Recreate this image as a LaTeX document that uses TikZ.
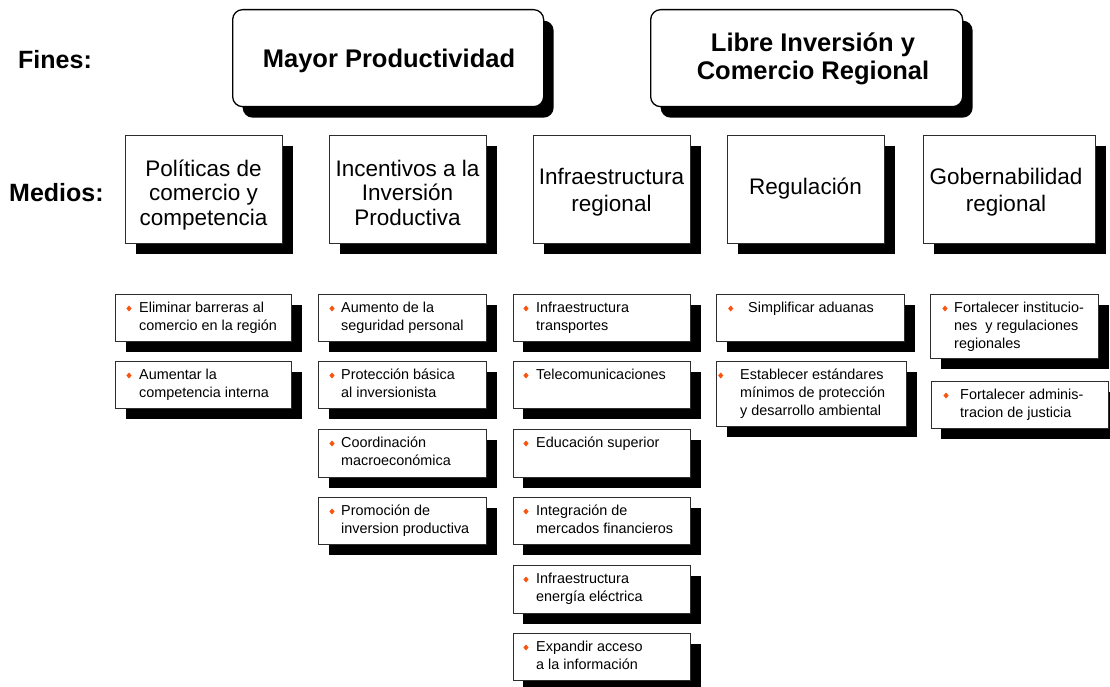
\documentclass[tikz,border=0pt]{standalone}
\usepackage{fontspec}
\setmainfont{Liberation Sans}
\usetikzlibrary{shadows}

\definecolor{bulletorange}{RGB}{250,85,15}
\definecolor{edgegray}{RGB}{45,45,45}

% multi-line cells whose baseline is the first line
\newcommand{\clines}[1]{\begin{tabular}[t]{@{}c@{}}#1\end{tabular}}
\newcommand{\llines}[1]{\begin{tabular}[t]{@{}l@{}}#1\end{tabular}}

\tikzset{
  endbox/.style={draw=black, line width=1.3pt, fill=white, rounded corners=10pt,
    inner sep=0pt, anchor=north west,
    drop shadow={shadow xshift=10pt, shadow yshift=-11pt, fill=black, opacity=1}},
  meanbox/.style={draw=edgegray, line width=1.2pt, fill=white, inner sep=0pt,
    anchor=north west, minimum width=157pt, minimum height=108pt,
    drop shadow={shadow xshift=10pt, shadow yshift=-10pt, fill=black, opacity=1}},
  itembox/.style={draw=edgegray, line width=1.2pt, fill=white, inner sep=0pt,
    anchor=north west,
    drop shadow={shadow xshift=10pt, shadow yshift=-10pt, fill=black, opacity=1}},
  rowlabel/.style={font=\fontsize{25}{28}\selectfont\bfseries, inner sep=0pt, anchor=base west},
  endtext/.style={font=\fontsize{25.5}{28}\selectfont\bfseries, inner sep=0pt, anchor=base},
  meantext/.style={font=\fontsize{22.5}{24}\selectfont, inner sep=0pt, anchor=base},
  meantextwide/.style={font=\fontsize{22.5}{26.7}\selectfont, inner sep=0pt, anchor=base},
  itemtext/.style={font=\fontsize{14.4}{17.8}\selectfont, inner sep=0pt, anchor=base west},
}

% #1 name, #2 left, #3 top, #4 width, #5 height, #6 bullet offset, #7 text offset, #8 text
\newcommand{\meansitem}[8]{%
  \node[itembox, minimum width=#4pt, minimum height=#5pt] (#1) at (#2,#3) {};
  \fill[bulletorange] (#2+#6,#3+14.5) +(-2.6,0) -- +(0,3) -- +(2.6,0) -- +(0,-3) -- cycle;
  \node[itemtext] (#1-text) at (#2+#7,#3+18.5) {\llines{#8}};
}

\begin{document}
\begin{tikzpicture}[x=1pt, y=-1pt]
  \useasboundingbox (0,0) rectangle (1110,687);

  % ends
  \node[rowlabel] (fines) at (18,69) {Fines:};
  \node[endbox, minimum width=311pt, minimum height=97pt] (mayor) at (232,9) {};
  \node[endtext] (mayor-text) at (389,68) {Mayor Productividad};
  \node[endbox, minimum width=312pt, minimum height=97pt] (libre) at (650,9) {};
  \node[endtext] (libre-text) at (813,52) {\clines{Libre Inversión y\\Comercio Regional}};

  % means
  \node[rowlabel] (medios) at (9,201) {Medios:};
  \node[meanbox] (politicas) at (125,135) {};
  \node[meantext] (politicas-text) at (203.5,177) {\clines{Políticas de\\comercio y\\competencia}};
  \node[meanbox] (incentivos) at (329,135) {};
  \node[meantext] (incentivos-text) at (407.5,177) {\clines{Incentivos a la\\Inversión\\Productiva}};
  \node[meanbox] (infra) at (533,135) {};
  \node[meantextwide] (infra-text) at (611.5,185) {\clines{Infraestructura\\regional}};
  \node[meanbox] (regulacion) at (727,135) {};
  \node[meantext] (regulacion-text) at (805.5,194) {Regulación};
  \node[meanbox, minimum width=172pt] (gobernab) at (923,135) {};
  \node[meantextwide] (gobernab-text) at (1006,185) {\clines{Gobernabilidad\\regional}};

  % trade and competition
  \meansitem{p1}{115}{294}{176}{47}{14}{24}{Eliminar barreras al\\comercio en la región}
  \meansitem{p2}{115}{361}{176}{47}{14}{24}{Aumentar la\\competencia interna}

  % investment incentives
  \meansitem{i1}{318}{294}{168}{47}{14}{23}{Aumento de la\\seguridad personal}
  \meansitem{i2}{318}{361}{168}{47}{14}{23}{Protección básica\\al inversionista}
  \meansitem{i3}{318}{429}{168}{48}{14}{23}{Coordinación\\macroeconómica}
  \meansitem{i4}{318}{497}{168}{47}{14}{23}{Promoción de\\inversion productiva}

  % regional infrastructure
  \meansitem{f1}{512.5}{294}{177.5}{47}{13.5}{23.5}{Infraestructura\\transportes}
  \meansitem{f2}{512.5}{361}{177.5}{47}{13.5}{23.5}{Telecomunicaciones}
  \meansitem{f3}{512.5}{429}{177.5}{48}{13.5}{23.5}{Educación superior}
  \meansitem{f4}{512.5}{497}{177.5}{47}{13.5}{23.5}{Integración de\\mercados financieros}
  \meansitem{f5}{512.5}{565}{177.5}{48}{13.5}{23.5}{Infraestructura\\energía eléctrica}
  \meansitem{f6}{512.5}{633}{177.5}{47}{13.5}{23.5}{Expandir acceso\\a la información}

  % regulation
  \meansitem{r1}{716}{294}{188}{47}{14.7}{32}{Simplificar aduanas}
  \meansitem{r2}{716}{361}{190}{65}{4.7}{24}{Establecer estándares\\mínimos de protección\\y desarrollo ambiental}

  % governance
  \meansitem{g1}{930}{294}{168}{64}{15}{24}{Fortalecer institucio-\\nes \ y regulaciones\\regionales}
  \meansitem{g2}{930.5}{381}{177.5}{47}{15.5}{29.5}{Fortalecer adminis-\\tracion de justicia}
\end{tikzpicture}
\end{document}
